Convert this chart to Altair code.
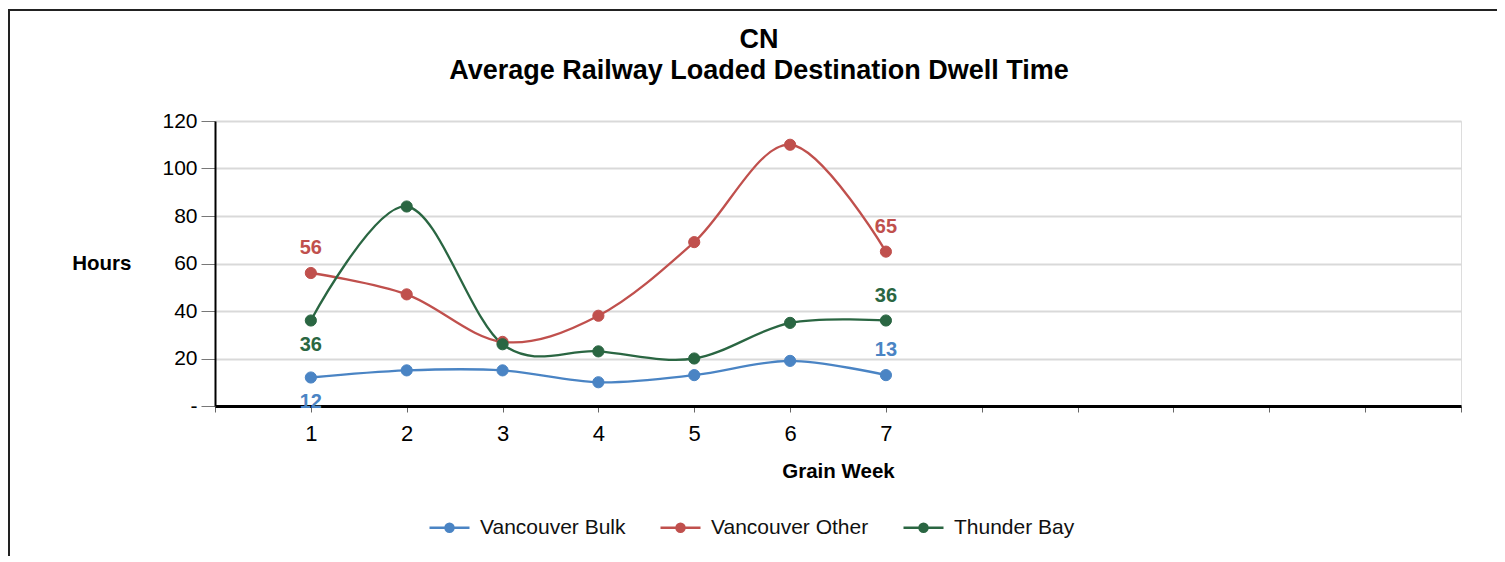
import altair as alt
import pandas as pd

weeks = [1, 2, 3, 4, 5, 6, 7]
vancouver_bulk = [12, 15, 15, 10, 13, 19, 13]
vancouver_other = [56, 47, 27, 38, 69, 110, 65]
thunder_bay = [36, 84, 26, 23, 20, 35, 36]
series_names = ["Vancouver Bulk", "Vancouver Other", "Thunder Bay"]
series_colors = ["#4a84c4", "#c0504d", "#2a6642"]
x_ticks = list(range(0, 14))
y_ticks = [0, 20, 40, 60, 80, 100, 120]
title_lines = ["CN", "Average Railway Loaded Destination Dwell Time"]

rows = []
for name, vals in zip(series_names, [vancouver_bulk, vancouver_other, thunder_bay]):
    for w, v in zip(weeks, vals):
        rows.append({"week": w, "hours": v, "series": name})
df = pd.DataFrame(rows)

W, H = 1246, 285
FONT = "Liberation Sans"

legend_path = ("M-1,0L1,0M0.2,0A0.2,0.2,0,1,1,-0.2,0A0.2,0.2,0,1,1,0.2,0Z")
legend = alt.Legend(
    title=None, orient="none", legendX=213, legendY=385, direction="horizontal",
    symbolType=legend_path, symbolSize=1600, symbolStrokeWidth=2.5,
    labelFont=FONT, labelFontSize=21, labelColor="#111", labelOffset=9,
    columnPadding=29, padding=0,
)
color_scale = alt.Scale(domain=series_names, range=series_colors)

x_enc = alt.X(
    "week:Q",
    scale=alt.Scale(domain=[0, 13], nice=False, zero=False),
    axis=alt.Axis(
        values=x_ticks,
        labelExpr="datum.value >= 1 && datum.value <= 7 ? datum.value : ''",
        title="Grain Week", titleFont=FONT, titleFontSize=20.5, titleFontWeight="bold",
        titleColor="#000", titlePadding=17,
        labelFont=FONT, labelFontSize=22, labelColor="#000", labelPadding=11,
        domainColor="#000", domainWidth=3, tickColor="#666", tickSize=6, tickWidth=1,
        grid=False,
    ),
)
y_enc = alt.Y(
    "hours:Q",
    scale=alt.Scale(domain=[0, 120], nice=False),
    axis=alt.Axis(
        values=y_ticks,
        labelExpr="datum.value == 0 ? '-' : datum.label",
        title="Hours", titleFont=FONT, titleFontSize=20.5, titleFontWeight="bold",
        titleColor="#000", titleAngle=0, titleX=-84, titleY=H / 2,
        titleAlign="right", titleBaseline="middle",
        labelFont=FONT, labelFontSize=21, labelColor="#000", labelPadding=4,
        domainColor="#000", domainWidth=2, tickColor="#777", tickSize=14, tickWidth=1,
        grid=True, gridColor="#d9d9d9", gridWidth=2,
    ),
)

base = alt.Chart(df)

lines = base.mark_line(interpolate="cardinal", strokeWidth=2.3).encode(
    x=x_enc, y=y_enc,
    stroke=alt.Stroke("series:N", scale=color_scale, legend=legend),
)
points = base.mark_point(filled=True, shape="circle", size=125, strokeWidth=1, opacity=1).encode(
    x="week:Q", y="hours:Q",
    fill=alt.Fill("series:N", scale=color_scale, legend=legend),
    stroke=alt.Stroke("series:N", scale=color_scale, legend=legend),
)
labels_above = base.mark_text(
    font=FONT, fontSize=20, fontWeight="bold", dy=-25, baseline="middle"
).encode(
    x="week:Q", y="hours:Q", text="hours:Q",
    fill=alt.Fill("series:N", scale=color_scale, legend=legend),
).transform_filter(
    "datum.week == 7 || (datum.week == 1 && datum.series == 'Vancouver Other')"
)
labels_below = base.mark_text(
    font=FONT, fontSize=20, fontWeight="bold", dy=24, baseline="middle"
).encode(
    x="week:Q", y="hours:Q", text="hours:Q",
    fill=alt.Fill("series:N", scale=color_scale, legend=legend),
).transform_filter(
    "datum.week == 1 && datum.series != 'Vancouver Other'"
)
frame = alt.Chart(pd.DataFrame({"k": [0]})).mark_rect(
    fillOpacity=0, stroke="#222", strokeWidth=2
).encode(
    x=alt.value(-206), x2=alt.value(1400), y=alt.value(-111), y2=alt.value(500)
)

chart = alt.layer(frame, lines, points, labels_above, labels_below).properties(
    width=W, height=H,
    title=alt.TitleParams(
        text=title_lines, font=FONT, fontSize=27, fontWeight="bold", color="#000",
        anchor="middle", dx=-79, dy=76, lineHeight=31, offset=0,
    ),
    autosize=alt.AutoSizeParams(type="none"),
    padding={"left": 207, "top": 113, "right": 36, "bottom": 150},
).configure_view(stroke=None).configure(background="white")

chart.save("out.html", embed_options={"renderer": "svg", "actions": False})
